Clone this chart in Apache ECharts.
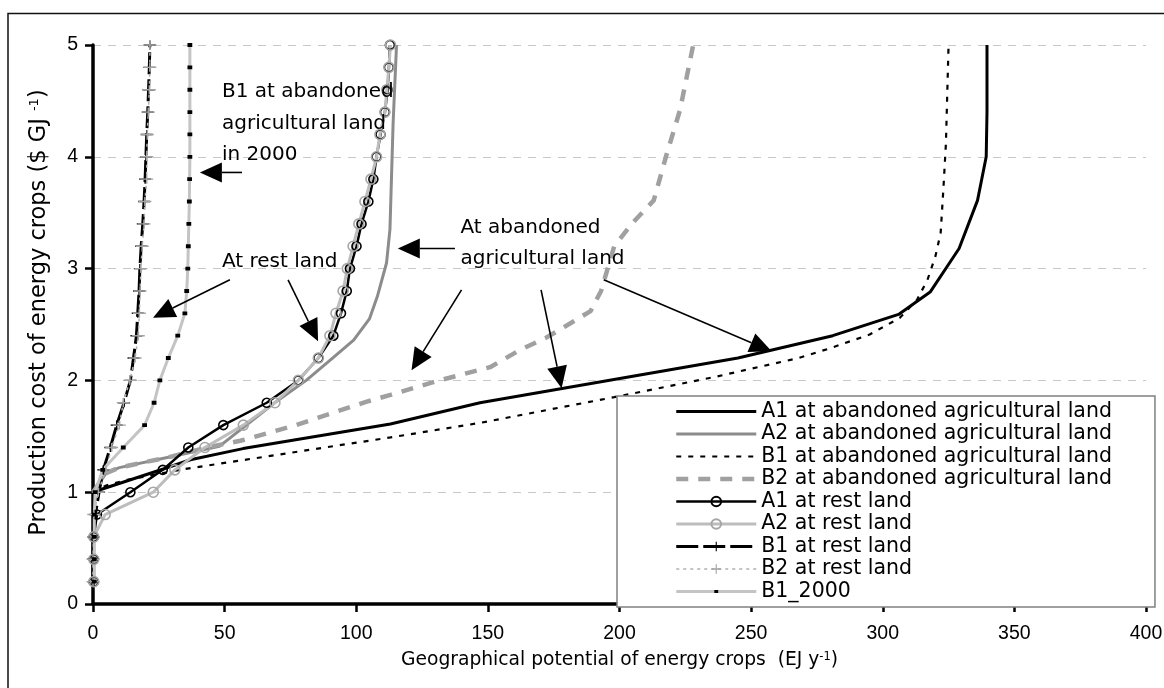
<!DOCTYPE html>
<html>
<head>
<meta charset="utf-8">
<title>Energy crops cost-supply curves</title>
<script src="https://cdn.jsdelivr.net/npm/echarts@6/dist/echarts.min.js"></script>
<style>
  html, body { margin: 0; padding: 0; background: #fff; }
  #main { width: 1164px; height: 688px; }
</style>
</head>
<body>
<div id="main"></div>
<script>
// series names, in legend order
const seriesNames = [
  'A1 at abandoned agricultural land',
  'A2 at abandoned agricultural land',
  'B1 at abandoned agricultural land',
  'B2 at abandoned agricultural land',
  'A1 at rest land',
  'A2 at rest land',
  'B1 at rest land',
  'B2 at rest land',
  'B1_2000'
];

// abandoned agricultural land: [potential EJ/y, cost $/GJ]
const a1Abandoned = [[0, 1.0], [5, 1.04], [27, 1.21], [37, 1.29], [57, 1.39], [113, 1.61], [147, 1.80],
  [245, 2.20], [281, 2.40], [306, 2.59], [318, 2.79], [329, 3.18], [336, 3.61], [339.3, 4.0], [339.6, 4.4], [339.6, 5.0]];
const a2Abandoned = [[0, 1.0], [5, 1.17], [10, 1.22], [30, 1.32], [48, 1.41], [69, 1.8], [81, 2.0], [91, 2.2],
  [99, 2.36], [105, 2.55], [108, 2.75], [111.5, 3.05], [112.8, 3.35], [114, 4.3], [115.3, 5.0]];
const b1Abandoned = [[0, 1.0], [5, 1.06], [13, 1.11], [33, 1.2], [55, 1.28], [113, 1.49], [147, 1.62], [198, 1.85],
  [236, 2.03], [268, 2.2], [279, 2.28], [295, 2.41], [306.5, 2.56], [313, 2.72], [317, 2.9], [320, 3.11],
  [322, 3.32], [323, 3.7], [324, 4.12], [325, 5.0]];
const b2Abandoned = [[0, 1.0], [5, 1.17], [10, 1.22], [30, 1.32], [45, 1.41], [56, 1.46], [77, 1.6], [104, 1.81],
  [113, 1.87], [130, 1.99], [151, 2.12], [162, 2.27], [172, 2.38], [182, 2.52], [189, 2.62], [193, 2.8],
  [198, 3.2], [205, 3.41], [213, 3.61], [218, 4.03], [223, 4.42], [228, 5.0]];

// rest land: cost levels and the potential at each level
const costLevels = [0.2, 0.4, 0.6, 0.8, 1.0, 1.2, 1.4, 1.6, 1.8, 2.0, 2.2, 2.4, 2.6, 2.8, 3.0, 3.2, 3.4, 3.6, 3.8, 4.0, 4.2, 4.4, 4.6, 4.8, 5.0];
const a1Rest = [0.3, 0.3, 0.3, 1.5, 14.2, 26.5, 36.2, 49.5, 66, 78, 85.6, 91.3, 94.2, 96.4, 97.6, 100.1, 102, 104.6, 106.5, 107.7, 109.2, 110.9, 111.9, 112.4, 112.8];
const a2Rest = [0.3, 0.3, 0.3, 4.6, 22.9, 31.1, 42.5, 57.1, 69.1, 78, 85.6, 90, 92.3, 95.0, 96.6, 98.8, 101, 103.3, 105.6, 107.7, 109, 110.9, 111.6, 112.4, 113];
const b1Rest = [0, 0, 0.1, 0.9, 2.3, 3.9, 6.6, 9, 11.8, 14.2, 15.4, 16.5, 17.0, 17.5, 17.8, 18.3, 18.9, 19.4, 19.8, 20.1, 20.4, 20.8, 21.1, 21.4, 21.6];
const b2Rest = [0, 0, 0.2, 0.3, 2.0, 4.9, 7.1, 10, 11.5, 14, 16, 17.2, 17.6, 17.9, 18.2, 18.7, 19.4, 19.7, 20.4, 20.4, 20.6, 21.0, 21.4, 21.6, 21.6];
const b1Year2000 = [0.5, 0.5, 0.5, 0.5, 0.8, 3.7, 11.5, 19.6, 23.2, 25.4, 28.6, 32.2, 34.9, 35.6, 36.0, 36.2, 36.4, 36.6, 36.7, 36.8, 36.8, 36.8, 36.8, 36.8, 36.8];

// annotation arrows: [tail, tip] in data units
const arrows = [
  [[56.6, 3.86], [40.6, 3.86]],
  [[52.0, 2.90], [22.8, 2.56]],
  [[74.1, 2.90], [85.5, 2.35]],
  [[137.5, 3.18], [115.8, 3.18]],
  [[140, 2.81], [121, 2.09]],
  [[170.2, 2.81], [178, 1.93]],
  [[194, 2.90], [257.8, 2.26]]
];
const notes = [
  { text: 'B1 at abandoned\nagricultural land\nin 2000', at: [49.0, 4.72] },
  { text: 'At rest land', at: [49.0, 3.20] },
  { text: 'At abandoned\nagricultural land', at: [139.6, 3.51] }
];

function withCost(xs) {
  return xs.map((x, i) => [x, costLevels[i]]);
}

const plusPath = 'path://M0,3.8H12V5.2H0Z M5.3,0H6.7V9H5.3Z';
// small square inside an empty box, so the legend draws it small too
const dotPath = 'path://M0,0h0.01v0.01h-0.01z M3,3.4h4v3.2h-4z M9.99,9.99h0.01v0.01h-0.01z';
const noMarker = { color: 'rgba(0,0,0,0)', borderWidth: 0 };
const textFont = 'DejaVu Sans';

let dom = document.getElementById('main');
let myChart = echarts.init(dom);

function line(name, data, lineStyle, extra) {
  return Object.assign({
    name: name,
    type: 'line',
    data: data,
    symbol: 'none',
    itemStyle: noMarker,
    lineStyle: lineStyle,
    emphasis: { disabled: true },
    silent: true
  }, extra || {});
}

let option = {
  animation: false,
  backgroundColor: '#fff',
  grid: { left: 93, right: 18, top: 45, bottom: 84, containLabel: false, outerBoundsMode: 'none' },
  legend: {
    orient: 'vertical',
    left: 617,
    top: 396,
    padding: [5, 43, 5, 57],
    itemWidth: 80,
    itemHeight: 12,
    itemGap: 1.5,
    backgroundColor: '#fff',
    borderColor: '#808080',
    borderWidth: 1.5,
    borderRadius: 0,
    selectedMode: false,
    textStyle: { fontFamily: textFont, fontSize: 20.5, color: '#000', lineHeight: 20 },
    lineStyle: { width: 'inherit' },
    data: seriesNames,
    z: 10
  },
  xAxis: {
    type: 'value',
    min: 0,
    max: 400,
    interval: 50,
    axisLine: { lineStyle: { color: '#000', width: 3.5 } },
    axisTick: { length: 8, lineStyle: { color: '#000', width: 2.5 } },
    axisLabel: { margin: 20, fontFamily: 'Liberation Sans', fontSize: 19.5, color: '#000' },
    splitLine: { show: false },
    name: '{t|Geographical potential of energy crops  (EJ y}{s|-1}{t|)}',
    nameLocation: 'middle',
    nameGap: 47,
    nameMoveOverlap: false,
    nameTextStyle: {
      color: '#000',
      rich: {
        t: { fontFamily: textFont, fontSize: 18.7, color: '#000' },
        s: { fontFamily: textFont, fontSize: 11.5, color: '#000', verticalAlign: 'top' }
      }
    }
  },
  yAxis: {
    type: 'value',
    min: 0,
    max: 5,
    interval: 1,
    axisLine: { show: true, lineStyle: { color: '#000', width: 3.5 } },
    axisTick: { show: true, length: 8, lineStyle: { color: '#000', width: 2.5 } },
    axisLabel: { margin: 15, fontFamily: 'Liberation Sans', fontSize: 19.5, color: '#000' },
    splitLine: { show: true, lineStyle: { color: '#c8c8c8', width: 1.2, type: [8, 7] } },
    name: '{t|Production cost of energy crops ($ GJ }{s|-1}{t|)}',
    nameLocation: 'middle',
    nameRotate: 90,
    nameGap: 42,
    nameMoveOverlap: false,
    nameTextStyle: {
      color: '#000',
      padding: [0, 0, 0, 24],
      rich: {
        t: { fontFamily: textFont, fontSize: 22.5, color: '#000' },
        s: { fontFamily: textFont, fontSize: 13, color: '#000', verticalAlign: 'top' }
      }
    }
  },
  series: [
    line(seriesNames[0], a1Abandoned, { color: '#000', width: 3 }),
    line(seriesNames[1], a2Abandoned, { color: '#8c8c8c', width: 3 }),
    line(seriesNames[2], b1Abandoned, { color: '#000', width: 2.2, type: [5, 7] }),
    line(seriesNames[3], b2Abandoned, { color: '#a0a0a0', width: 4.5, type: [12, 10] }),
    line(seriesNames[4], withCost(a1Rest), { color: '#000', width: 2.5 }, {
      symbol: 'circle', symbolSize: 9,
      itemStyle: { color: 'rgba(0,0,0,0)', borderColor: '#000', borderWidth: 1.6 }
    }),
    line(seriesNames[5], withCost(a2Rest), { color: '#bdbdbd', width: 3 }, {
      symbol: 'circle', symbolSize: 10,
      itemStyle: { color: 'rgba(0,0,0,0)', borderColor: '#a6a6a6', borderWidth: 1.6 }
    }),
    line(seriesNames[6], withCost(b1Rest), { color: '#000', width: 3, type: [22, 5] }, {
      symbol: plusPath, symbolSize: [12, 9],
      itemStyle: { color: '#000' }
    }),
    line(seriesNames[7], withCost(b2Rest), { color: '#b0b0b0', width: 1.5, type: [3, 4] }, {
      symbol: plusPath, symbolSize: [13, 9],
      itemStyle: { color: '#a4a4a4' }
    }),
    line(seriesNames[8], withCost(b1Year2000), { color: '#c4c4c4', width: 3 }, {
      symbol: dotPath, symbolSize: 12,
      itemStyle: { color: '#000' }
    })
  ]
};

myChart.setOption(option);

// arrows and notes placed through the grid's own scale
function arrowParts(tail, tip) {
  let p0 = myChart.convertToPixel({ gridIndex: 0 }, tail);
  let p1 = myChart.convertToPixel({ gridIndex: 0 }, tip);
  let dx = p1[0] - p0[0], dy = p1[1] - p0[1];
  let len = Math.sqrt(dx * dx + dy * dy);
  let ux = dx / len, uy = dy / len;
  const headLen = 22, headHalf = 10;
  let bx = p1[0] - ux * headLen, by = p1[1] - uy * headLen;
  return [
    { type: 'line', z: 5, silent: true, shape: { x1: p0[0], y1: p0[1], x2: bx, y2: by },
      style: { stroke: '#000', lineWidth: 1.6 } },
    { type: 'polygon', z: 5, silent: true,
      shape: { points: [[p1[0], p1[1]], [bx - uy * headHalf, by + ux * headHalf], [bx + uy * headHalf, by - ux * headHalf]] },
      style: { fill: '#000' } }
  ];
}

let graphics = [];
// outer frame of the figure
graphics.push({ type: 'polyline', z: 0, silent: true,
  shape: { points: [[8, 700], [8, 13.5], [1170, 13.5]] },
  style: { stroke: '#111', lineWidth: 1.5, fill: null } });
arrows.forEach(function (a) {
  graphics = graphics.concat(arrowParts(a[0], a[1]));
});
notes.forEach(function (n) {
  let p = myChart.convertToPixel({ gridIndex: 0 }, n.at);
  graphics.push({ type: 'text', z: 5, silent: true, x: p[0], y: p[1],
    style: { text: n.text, fill: '#000', font: '20px "' + textFont + '"', lineHeight: 31.5,
      textAlign: 'left', textVerticalAlign: 'top' } });
});

myChart.setOption({ graphic: graphics });
</script>
</body>
</html>
